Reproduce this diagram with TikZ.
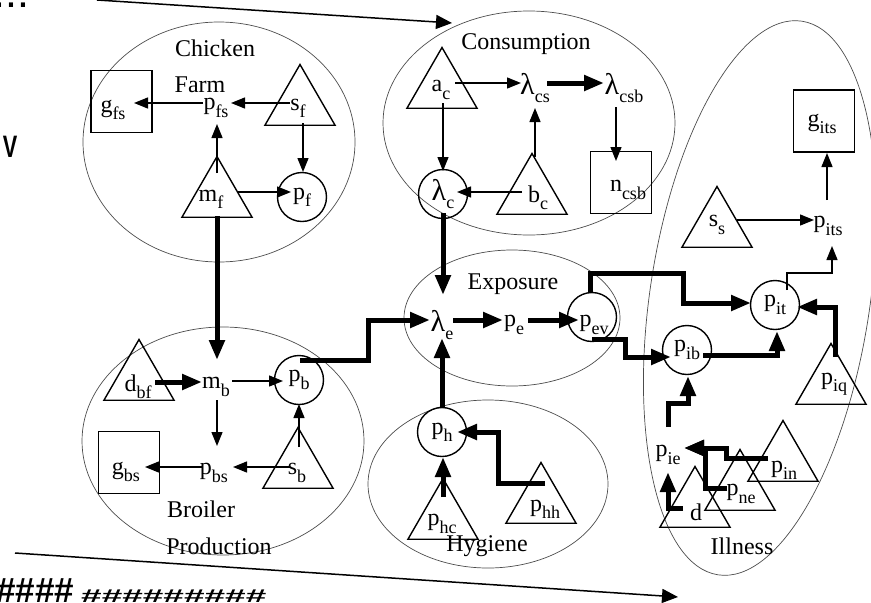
\documentclass[tikz,border=0pt]{standalone}
\usepackage{fontspec}
\setmainfont{Liberation Serif}
\newfontfamily\sansf{Liberation Sans}
\usepackage{graphicx}
\usetikzlibrary{shapes.geometric,arrows.meta}
\newcommand{\lsub}[1]{\raisebox{-0.3em}{\fontsize{18}{18}\selectfont #1}}
\newcommand{\lab}[2]{#1\lsub{#2}}
\newcommand{\lam}{{\fontsize{30}{30}\selectfont λ}}
\begin{document}
\begin{tikzpicture}[x=1pt,y=-1pt,
  every node/.style={font=\fontsize{24}{28}\selectfont, inner sep=1pt},
  grp/.style={draw=black!70, line width=0.7pt},
  tri/.style={draw, line width=1.4pt, regular polygon, regular polygon sides=3, minimum size=81pt, inner sep=0pt},
  circ/.style={draw, circle, line width=1.4pt, minimum size=49pt, inner sep=0pt},
  box/.style={draw, rectangle, line width=1.4pt, minimum width=61pt, minimum height=62pt, inner sep=0pt},
  thin/.style={line width=1.3pt, -{Triangle[length=14pt,width=11pt]}},
  thick/.style={line width=5pt, -{Triangle[length=20pt,width=15pt]}},
  long/.style={line width=1.5pt, -{Triangle[length=16pt,width=14pt]}},
  ]
\useasboundingbox (0,0) rectangle (871,603);
\clip (0,0) rectangle (871,603);

% stray texts
\node[anchor=base west, font=\sansf\fontsize{43}{43}\selectfont, inner sep=0pt] (dots) at (-7,7) {...};
\node[anchor=base, font=\sansf\bfseries\fontsize{31}{31}\selectfont, inner sep=0pt] (vv) at (10,157) {\scalebox{0.7}[1]{V}};
\node[anchor=base west, font=\sansf\bfseries\fontsize{35}{35}\selectfont, inner sep=0pt] (h1) at (-4,602) {\#\#\#\#};
\node[anchor=base west, font=\sansf\bfseries\fontsize{37}{37}\selectfont, inner sep=0pt] (h2) at (81,602) {\scalebox{1}[0.5]{\#\#\#\#\#\#\#\#\#}};

% group ellipses
\draw[grp] (219,142) ellipse [x radius=136, y radius=120];
\draw[grp] (529,123) ellipse [x radius=146, y radius=112];
\draw[grp] (512,318) ellipse [x radius=108, y radius=68];
\draw[grp] (223,441) ellipse [x radius=141, y radius=114];
\draw[grp] (488,484) ellipse [x radius=120, y radius=84];
\draw[grp, rotate around={-8.6:(760,298)}] (760,298) ellipse [x radius=110, y radius=280];

% group titles
\node (tchk) at (215,48) {Chicken};
\node (tfarm) at (200,85) {Farm};
\node (tcons) at (526,44) {Consumption};
\node (texp) at (513,284) {Exposure};
\node (tbro) at (201,509) {Broiler};
\node (tprod) at (219,546) {Production};
\node (thyg) at (487,546) {Hygiene};
\node (till) at (742,546) {Illness};

% Chicken farm
\node[box] (gfsB) at (121.5,101.5) {};
\node (gfs) at (113,110) {\lab{g}{fs}};
\node (pfs) at (216,108) {\lab{p}{fs}};
\node[tri] (sfT) at (300,105) {};
\node (sf) at (298,108) {\lab{s}{f}};
\node[tri] (mfT) at (217,197) {};
\node (mf) at (211,199) {\lab{m}{f}};
\node[circ] (pf) at (302,197) {\lab{p}{f}};

% Broiler production
\node[tri] (dbfT) at (139,380) {};
\node (dbf) at (138,387) {\lab{d}{bf}};
\node (mb) at (216,387) {\lab{m}{b}};
\node[circ] (pb) at (299,380) {\lab{p}{b}};
\node (pbs) at (214,473) {\lab{p}{bs}};
\node[tri] (sbT) at (298,468) {};
\node (sb) at (297,473) {\lab{s}{b}};
\node[box] (gbsB) at (129,462.5) {};
\node (gbs) at (126,472) {\lab{g}{bs}};

% Consumption
\node[tri] (acT) at (442,88) {};
\node (ac) at (441,90) {\lab{a}{c}};
\node (lcs) at (535,88) {\lab{\lam}{cs}};
\node (lcsb) at (624,88) {\lab{\lam}{csb}};
\node[box] (ncsbB) at (621,182.5) {};
\node (ncsb) at (628,190) {\lab{n}{csb}};
\node[tri] (bcT) at (532,194) {};
\node (bc) at (538,198) {\lab{b}{c}};
\node[circ] (lc) at (443,194) {\lab{\lam}{c}};

% Exposure
\node (le) at (442,325) {\lab{\lam}{e}};
\node (pe) at (514,325) {\lab{p}{e}};
\node[circ] (pevC) at (592,317) {};
\node (pev) at (594,325) {\lab{p}{ev}};

% Hygiene
\node[circ] (ph) at (442,432) {\lab{p}{h}};
\node[tri] (phcT) at (443,519) {};
\node (phc) at (442,524) {\lab{p}{hc}};
\node[tri] (phhT) at (541,503) {};
\node (phh) at (545,509) {\lab{p}{hh}};

% Illness
\node[circ] (pib) at (687,350) {\lab{p}{ib}};
\node[circ] (pit) at (775,305) {\lab{p}{it}};
\node (pits) at (828,226) {\lab{p}{its}};
\node[box] (gitsB) at (824,121) {};
\node (gits) at (822,124) {\lab{g}{its}};
\node[tri] (ssT) at (717,227) {};
\node (ss) at (717,225) {\lab{s}{s}};
\node[tri] (piqT) at (831,384) {};
\node (piq) at (834,384) {\lab{p}{iq}};
\node (pie) at (668,455) {\lab{p}{ie}};
\node[tri] (dT) at (695,507) {};
\node (d) at (696,512) {d};
\node[tri] (pneT) at (740,490) {};
\node (pne) at (741,494) {\lab{p}{ne}};
\node[tri] (pinT) at (783,461) {};
\node (pin) at (784,470) {\lab{p}{in}};

% long arrows
\coordinate (topS) at (97,0);
\coordinate (topE) at (452,23);
\coordinate (botS) at (15,553);
\coordinate (botE) at (678,597);
\draw[long] (topS) -- (topE);
\draw[long] (botS) -- (botE);

% connectors: chicken farm
\draw[thin] (290,103) -- (231,103);
\draw[thin] (203,103) -- (134,103);
\draw[thin] (303,123) -- (303,172);
\draw[thin] (217,173) -- (217,124);
\draw[thin] (238,192) -- (291,192);
\draw[thick] (217,216) -- (217,360);

% broiler
\draw[thick] (155,382) -- (202,382);
\draw[thin] (232,381) -- (283,381);
\draw[thin] (217,400) -- (217,446);
\draw[thin] (290,467) -- (233,467);
\draw[thin] (202,467) -- (145,467);
\draw[thin] (299,447) -- (299,404);
\draw[thick] (300,360) -- (368,360) -- (368,320) -- (430,320);

% consumption
\draw[thin] (455,83) -- (521,83);
\draw[thick] (547,83) -- (604,83);
\draw[thin] (616,107) -- (616,161);
\draw[thin] (535,157) -- (535,108);
\draw[thin] (443,103) -- (443,171);
\draw[thin] (522,192) -- (457,192);
\draw[thick] (443,213) -- (443,295);

% exposure
\draw[thick] (453,320) -- (503,320);
\draw[thick] (528,320) -- (579,320);

% hygiene
\draw[thick] (442,408) -- (442,338);
\draw[thick] (443,497) -- (443,457);
\draw[thick] (545,483) -- (498,483) -- (498,432) -- (457,432);

% illness
\draw[thick] (590,292) -- (590,273) -- (683,273) -- (683,303) -- (751,303);
\draw[thick] (592,339) -- (625,339) -- (625,357) -- (671,357);
\draw[thick] (703,355) -- (777,355) -- (777,331);
\draw[thick] (835,357) -- (835,307) -- (797,307);
\draw[thin] (787,290) -- (787,273) -- (832,273) -- (832,246);
\draw[thin] (737,220) -- (814,220);
\draw[thin] (827,200) -- (827,153);
\draw[thick] (668,427) -- (668,403) -- (688,403) -- (688,376);
\draw[thick] (683,508) -- (668,508) -- (668,472);
\draw[thick] (727,488) -- (705,488) -- (705,448) -- (684,448);
\draw[thick] (768,458) -- (726,458) -- (726,448) -- (684,448);
\end{tikzpicture}
\end{document}
